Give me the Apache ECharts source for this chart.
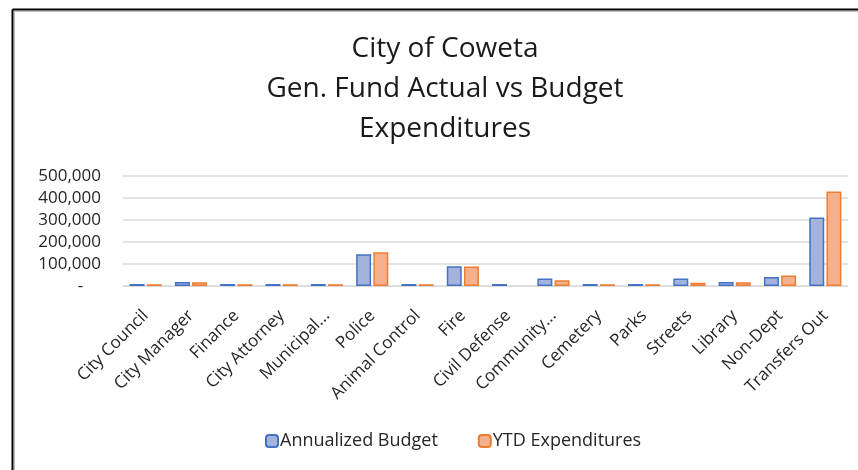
<!DOCTYPE html>
<html><head><meta charset="utf-8">
<script src="https://cdn.jsdelivr.net/npm/echarts@6/dist/echarts.min.js"></script>
<style>html,body{margin:0;padding:0;background:#fff;}#c{width:858px;height:470px;}</style>
</head><body><div id="c"></div>
<script>
const categories = ['City Council','City Manager','Finance','City Attorney','Municipal...','Police','Animal Control','Fire','Civil Defense','Community...','Cemetery','Parks','Streets','Library','Non-Dept','Transfers Out'];
const budget = [9000, 18000, 9000, 9000, 9000, 144000, 9000, 90000, 9000, 34000, 9000, 9000, 34000, 18000, 41000, 311000];
const ytd = [8000, 17000, 8000, 8000, 8000, 153000, 8000, 89000, null, 26000, 8000, 8000, 15000, 17000, 48000, 430000];
const yTicks = [0, 100000, 200000, 300000, 400000, 500000];
const titleLines = ['City of Coweta', 'Gen. Fund Actual vs Budget', 'Expenditures'];
const seriesNames = ['Annualized Budget', 'YTD Expenditures'];

const chart = echarts.init(document.getElementById('c'));
const font = 'Open Sans';
chart.setOption({
  animation: false,
  title: {
    text: titleLines.join('\n'),
    left: 440, top: 24, textAlign: 'center',
    textStyle: {fontFamily: font, fontSize: 28, fontWeight: 'normal', color: '#1a1a1a', lineHeight: 40}
  },
  legend: {
    data: seriesNames,
    bottom: 15, left: 260,
    itemWidth: 12, itemHeight: 12, itemGap: 40,
    textStyle: {fontFamily: font, fontSize: 18, color: '#262626', padding: [0, 0, 0, -3]}
  },
  grid: {left: 123, right: 10, top: 176, bottom: 184, containLabel: false},
  xAxis: {
    type: 'category', data: categories,
    axisLine: {lineStyle: {color: '#d9d9d9'}},
    axisTick: {show: false},
    axisLabel: {rotate: 45, interval: 0, fontFamily: font, fontSize: 17, color: '#262626', margin: 27}
  },
  yAxis: {
    type: 'value', min: yTicks[0], max: yTicks[yTicks.length-1], interval: 100000,
    axisLine: {show: false}, axisTick: {show: false},
    splitLine: {lineStyle: {color: '#d9d9d9', width: 1.5}},
    axisLabel: {
      fontFamily: font, fontSize: 17, color: '#262626', margin: 22,
      formatter: v => v === 0 ? '-    ' : v.toLocaleString('en-US')
    }
  },
  series: [
    {name: seriesNames[0], type: 'bar', data: budget, barGap: '15%', barCategoryGap: '29%',
     itemStyle: {color: '#a3b3de', borderColor: '#4472c4', borderWidth: 1.5}},
    {name: seriesNames[1], type: 'bar', data: ytd,
     itemStyle: {color: '#f5b08e', borderColor: '#ed7d31', borderWidth: 1.5}}
  ],
  graphic: [
    {type: 'line', shape: {x1: 12.5, y1: 9.5, x2: 858, y2: 9.5}, style: {stroke: '#000', lineWidth: 2}},
    {type: 'line', shape: {x1: 12.5, y1: 9.5, x2: 12.5, y2: 470}, style: {stroke: '#000', lineWidth: 2}},
    {type: 'line', shape: {x1: 14, y1: 11.5, x2: 858, y2: 11.5}, style: {stroke: '#bbb', lineWidth: 1}},
    {type: 'line', shape: {x1: 14.5, y1: 11, x2: 14.5, y2: 470}, style: {stroke: '#bbb', lineWidth: 1}}
  ]
});
</script></body></html>
